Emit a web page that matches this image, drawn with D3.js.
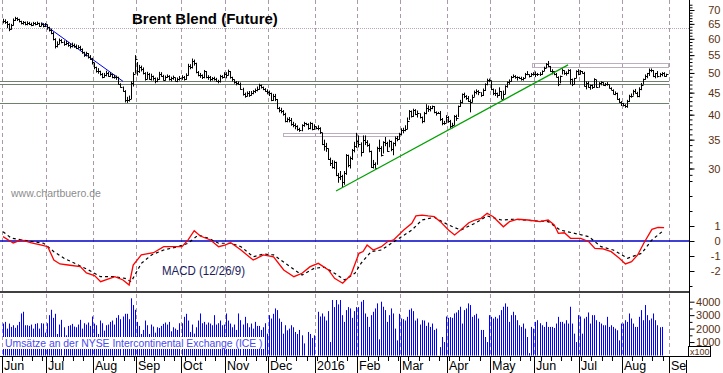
<!DOCTYPE html>
<html>
<head>
<meta charset="utf-8">
<script src="https://cdn.jsdelivr.net/npm/d3@7"></script>
<style>
  body { margin: 0; background: #fff; }
  svg { display: block; font-family: Arial, 'Liberation Sans', sans-serif; }
</style>
</head>
<body>
<div id="viz"></div>
<script>
const width = 723;
const height = 373;
const axisX = 689;
const labelColor = '#5a3010';

// month labels on the time axis (one per month start, Jun 2015 .. Sep 2016)
const monthLabels = ['Jun', 'Jul', 'Aug', 'Sep', 'Oct', 'Nov', 'Dec', '2016',
  'Feb', 'Mar', 'Apr', 'May', 'Jun', 'Jul', 'Aug', 'Sep'];

// daily bars, one value per trading day, month by month
const close = [
  66.0,65.8,65.0,63.2,64.5,66.5,67.0,66.6,66.0,65.2,65.5,64.8,65.3,65.0,64.6,65.2,64.8,65.3,64.2,65.0,64.3,64.8,
  63.8,63.0,62.0,60.0,57.8,58.5,59.5,59.0,58.3,58.8,58.0,57.6,58.2,57.8,57.2,57.5,56.8,55.8,55.0,55.5,54.5,54.0,53.0,
  51.5,50.6,50.5,49.8,49.0,49.4,50.0,49.2,49.7,49.0,49.0,48.8,47.2,46.5,45.5,43.3,43.2,43.5,47.5,49.8,53.8,
  50.5,51.5,51.2,50.0,48.5,49.8,48.5,49.3,48.6,47.8,48.4,49.8,49.3,48.2,49.0,49.2,48.3,48.6,48.9,48.0,48.5,48.6,
  48.8,48.3,49.5,52.0,51.5,53.3,52.8,50.2,49.5,49.4,49.0,50.5,48.9,49.0,48.3,48.6,48.4,48.0,47.8,49.3,49.0,49.7,
  49.5,50.5,48.8,48.3,47.6,47.3,47.2,46.0,44.6,44.2,45.0,44.5,44.9,45.3,45.6,46.0,46.8,46.3,46.0,45.5,45.2,
  44.8,43.3,44.2,43.5,41.5,41.0,40.8,40.2,38.6,39.0,38.9,38.0,37.8,37.6,37.0,36.8,37.8,38.2,38.0,37.2,38.2,37.0,37.7,
  37.3,37.2,36.4,34.2,33.8,33.5,31.6,30.9,30.3,31.0,29.0,28.6,28.8,27.9,29.3,32.2,30.5,31.8,33.1,33.9,34.7,
  34.2,32.7,35.0,34.5,34.1,32.9,30.3,30.8,30.1,33.4,33.4,32.2,34.5,34.3,33.0,34.7,33.3,34.4,35.3,35.1,36.0,
  36.8,36.9,37.1,38.7,40.8,39.7,41.1,40.1,40.4,39.5,38.7,40.3,41.5,41.2,41.5,41.8,40.5,40.4,40.4,39.1,38.3,38.3,39.6,
  38.7,37.7,37.9,39.8,39.4,41.9,42.8,44.7,44.2,43.8,43.1,42.9,44.0,45.1,45.3,45.1,44.5,45.7,47.2,48.1,48.1,
  45.8,45.0,45.0,44.4,45.4,43.6,44.7,46.6,47.6,47.8,49.0,49.3,48.9,48.8,48.7,48.4,48.6,49.7,49.6,49.3,49.8,49.7,
  49.7,49.7,49.6,50.6,51.4,52.5,52.0,50.5,50.4,49.8,49.0,47.2,49.2,50.7,50.0,49.9,50.9,48.4,47.2,48.6,50.6,49.7,
  50.4,50.1,46.6,47.4,46.4,46.8,46.3,48.5,46.3,47.4,47.6,47.0,47.1,47.2,46.2,45.7,44.7,44.9,43.5,42.7,42.5,
  42.1,41.8,43.1,44.3,44.3,45.4,45.0,44.1,46.0,47.0,48.4,49.2,49.9,50.9,50.9,49.2,50.0,49.1,49.7,49.9,49.3,49.6
];
const high = [
  66.8,66.6,66.0,65.2,65.0,66.9,67.5,67.3,66.8,66.1,66.0,65.8,65.9,65.7,65.4,65.7,65.6,65.8,65.4,65.5,65.2,65.3,
  64.8,64.0,63.4,62.2,60.2,59.2,60.1,59.9,59.5,59.4,59.0,58.5,58.8,58.5,58.2,58.0,57.8,57.0,56.0,56.0,55.6,55.0,54.2,
  52.8,51.7,51.3,50.6,50.0,50.0,50.6,50.3,50.2,49.8,49.5,49.3,49.0,47.3,46.5,45.6,44.0,44.3,47.8,50.2,55.0,
  53.0,52.2,52.0,51.5,50.2,50.3,50.0,49.8,49.3,48.8,48.8,50.3,50.2,49.5,49.3,49.6,49.4,49.0,49.3,48.8,48.8,49.2,
  49.4,49.2,49.9,52.5,52.4,54.0,53.7,52.8,50.5,50.0,49.6,50.8,50.5,49.4,49.2,48.9,49.0,48.7,48.2,49.5,49.4,50.2,
  50.2,50.9,50.5,49.0,48.3,47.9,47.8,47.5,46.2,45.0,45.3,45.4,45.4,45.6,46.0,46.5,47.2,47.0,46.5,46.1,45.8,
  45.5,45.0,44.7,44.7,43.5,41.7,41.5,41.0,40.4,39.4,39.5,39.3,38.5,38.2,37.8,37.3,38.0,38.5,38.3,38.2,38.5,38.3,38.0,
  37.5,37.8,37.4,36.3,35.0,34.4,33.4,31.8,31.4,31.3,31.1,29.3,29.6,29.0,29.6,32.4,32.3,32.0,33.3,34.6,36.3,
  35.8,34.5,35.8,35.8,34.9,34.3,33.0,31.4,31.0,33.7,35.0,33.8,34.7,35.5,34.6,35.0,34.8,34.5,35.6,35.7,36.3,
  37.2,37.3,37.8,39.4,41.0,40.9,41.3,41.2,40.9,40.3,39.6,40.6,42.3,42.0,41.9,42.0,41.9,40.7,40.6,40.8,39.3,38.7,39.9,
  39.7,38.9,38.3,39.9,40.0,42.0,43.3,44.8,45.0,44.4,44.2,43.4,44.5,45.5,45.8,45.6,45.1,46.0,47.3,48.5,48.5,
  48.0,46.0,45.8,45.0,46.3,45.4,45.5,46.8,47.8,48.3,49.2,49.6,49.4,49.1,49.0,49.0,48.9,50.0,50.5,49.6,50.0,50.2,
  50.4,50.0,50.2,50.7,51.7,52.7,53.3,51.9,51.0,50.5,50.0,49.1,49.3,51.2,50.7,50.4,51.0,51.0,48.5,48.7,50.7,51.0,
  50.8,50.5,50.3,47.8,47.8,47.0,47.0,48.6,48.2,47.6,47.8,47.6,47.4,47.6,47.0,46.3,45.8,45.3,45.0,43.7,43.0,
  42.6,42.3,43.3,44.5,44.8,45.7,45.9,45.2,46.3,47.4,48.5,49.6,50.0,51.2,51.2,50.8,50.0,50.5,50.0,50.2,50.2,49.8
];
const low = [
  65.2,65.0,63.5,62.5,63.0,64.4,66.0,66.0,65.5,64.8,64.7,64.5,64.5,64.6,64.2,64.4,64.5,64.6,64.0,64.2,63.8,63.9,
  63.0,62.4,61.5,59.5,57.0,57.3,58.3,58.6,57.8,58.0,57.5,57.0,57.3,57.2,56.8,56.9,56.3,55.4,54.5,54.6,54.0,53.6,52.3,
  51.0,50.1,49.8,49.3,48.6,48.8,49.1,49.0,49.0,48.6,48.5,48.2,47.0,46.2,45.2,42.7,42.6,42.9,43.5,46.5,49.8,
  49.3,50.0,50.4,49.6,48.0,48.3,48.2,48.0,48.0,47.3,47.6,48.2,49.0,48.0,48.0,48.7,48.0,47.8,48.2,47.8,47.6,48.0,
  48.2,48.0,48.2,49.3,51.0,51.2,52.0,49.9,49.1,48.7,48.4,48.6,48.6,48.2,47.8,48.0,48.0,47.7,47.3,47.5,48.5,48.7,
  48.6,49.3,48.5,47.8,47.2,46.8,46.9,45.7,44.3,43.8,44.1,44.0,44.3,44.6,44.9,45.3,45.7,46.0,45.6,45.2,44.6,
  44.2,43.0,43.1,43.0,41.2,40.5,40.3,39.8,38.4,38.4,38.4,37.7,37.4,37.0,36.7,36.5,36.6,37.5,37.8,36.9,37.0,36.8,36.9,
  37.0,36.8,36.1,34.0,33.0,32.8,31.4,30.4,30.0,29.9,28.8,27.8,28.2,27.1,27.5,29.0,30.2,30.0,31.4,32.7,33.5,
  33.6,32.0,32.6,34.0,33.7,32.7,30.1,30.0,30.0,30.6,32.8,32.0,32.5,33.8,32.8,33.6,32.9,32.2,33.8,34.7,35.0,
  35.8,36.2,36.6,37.0,38.9,39.4,39.5,39.9,39.4,39.2,38.2,38.4,40.1,40.6,40.7,41.2,40.3,39.8,40.2,38.7,37.8,37.9,38.3,
  38.3,37.2,37.2,37.8,38.7,39.5,41.7,42.5,43.7,43.3,42.8,40.5,42.7,44.0,44.6,44.4,44.0,44.2,45.4,46.8,47.6,
  45.6,44.4,44.2,43.8,44.2,43.5,43.5,44.6,46.2,47.0,47.7,48.7,48.5,48.0,48.4,48.0,48.0,48.6,49.4,48.8,49.0,49.3,
  48.9,49.2,49.2,49.5,50.5,51.3,51.6,50.3,49.6,49.4,48.8,46.6,47.3,49.6,49.5,49.3,49.7,47.0,46.6,47.0,48.6,49.4,
  49.6,49.8,46.5,45.8,46.2,45.7,45.9,46.2,46.2,46.2,46.8,46.7,46.6,46.7,46.0,45.6,44.6,44.4,43.3,42.6,41.9,
  41.8,41.5,41.5,42.8,43.8,44.3,44.8,43.9,43.9,45.6,47.0,48.2,48.6,49.2,50.2,48.9,48.6,48.8,48.9,49.1,49.0,49.0
];

// daily turnover (axis units, x100)
const volume = [
  2375,2500,2000,2375,2125,2250,2060,2250,2500,3125,3250,2250,2250,2200,2300,2000,2350,2400,2000,2400,2375,1700,
  2400,3000,3400,2800,3100,1600,2300,2650,2100,1500,2200,2250,2350,2150,2100,2300,2650,2000,2400,2300,2450,2200,2900,
  2375,2250,1600,2600,2400,1850,2250,2300,2500,2600,2300,2800,3000,2700,2900,3100,3100,2700,4250,3750,3400,
  2500,2200,1600,1900,2600,2250,1600,2300,2150,1700,2100,2050,2200,2350,2450,2300,2500,1800,2100,2000,1900,2400,
  2400,2875,3100,2600,1750,2300,1625,2100,2600,3125,2400,2500,2300,2450,2375,2250,3000,2300,2400,2600,2250,2300,
  3125,2600,2375,2100,2300,1900,3125,2625,2300,2875,2400,2100,2375,2000,2500,2200,2200,1900,2100,2400,1625,
  3000,2750,3100,3500,3375,2750,2500,1625,2250,1875,2000,2250,2100,1750,1600,1900,1500,900,0,1750,1600,1300,1500,
  0,3250,2900,3125,2900,2600,3300,1000,4125,3600,4125,3800,4125,3000,2500,3375,3600,3500,2800,3300,3600,
  3600,4000,4125,3125,2875,2125,3000,3250,3500,3875,1200,4000,3625,3375,2500,3000,3500,3125,2000,1125,3100,
  2750,2700,2600,2875,3400,3500,3300,2600,2750,2300,2625,2600,2200,2450,2125,2375,1900,2000,0,625,1375,1000,2900,
  2800,2850,2800,3125,3200,3375,3625,2375,3375,3500,3875,3750,2875,3000,3100,2750,1900,1900,1375,1000,3000,
  2875,2750,2875,2750,3000,3375,3625,3875,3625,2500,3000,3250,3000,2625,2250,2125,2375,2000,1375,175,2125,2000,
  2500,2625,2400,2250,2125,2500,2125,2125,2125,2050,2375,2875,2500,2500,2375,2625,2375,3625,2375,1625,1000,3000,
  2900,1625,2750,2875,3200,2375,3000,3000,2625,2500,2375,2250,2250,2875,2125,2250,2125,2000,1875,1125,2375,
  2375,2625,2500,3125,2750,2375,2125,2125,2875,3375,2625,3750,3000,2625,2750,3125,2625,2250,2100,2125,null,null
];

// MACD (12/26/9): [trading day, value]
const macdLine = [[0,0.29],[4,-0.05],[5,-0.13],[9,0.07],[14,-0.13],[19,-0.27],[22,-0.38],[25,-1.27],[28,-1.53],
  [32,-1.6],[38,-1.71],[41,-2.13],[45,-2.31],[48,-2.71],[55,-2.38],[59,-2.6],[62,-2.93],[64,-1.6],[68,-0.93],
  [74,-0.78],[79,-0.38],[88,-0.38],[91,0.07],[94,0.69],[97,0.33],[102,0.07],[106,-0.38],[109,-0.27],[112,-0.11],
  [117,-0.6],[121,-1.05],[123,-1.27],[128,-0.93],[133,-1.05],[138,-1.93],[143,-2.38],[147,-2.15],[151,-1.71],
  [155,-1.49],[160,-1.93],[163,-2.49],[167,-2.82],[171,-2.27],[175,-0.82],[177,-0.7],[179,-0.27],[182,-0.6],
  [186,-0.38],[189,-0.05],[192,0.07],[197,0.73],[201,1.18],[203,1.67],[206,1.73],[209,1.67],[212,1.62],[215,1.29],
  [219,0.73],[222,0.4],[225,0.73],[229,1.22],[232,1.4],[235,1.51],[238,1.85],[241,1.62],[246,0.95],[249,1.29],
  [253,1.45],[258,1.4],[264,1.29],[268,1.4],[271,1.07],[273,0.51],[276,0.55],[279,0.18],[284,0.18],[288,-0.05],
  [291,-0.49],[295,-0.53],[299,-0.71],[303,-1.15],[306,-1.53],[309,-1.38],[312,-0.93],[315,-0.15],[319,0.78],
  [322,0.91],[325,0.89]];
const signalLine = [[0,0.62],[4,0.2],[9,0.07],[15,-0.05],[20,-0.15],[25,-0.71],[30,-1.15],[37,-1.6],[42,-1.93],
  [48,-2.38],[55,-2.38],[60,-2.49],[63,-2.71],[68,-1.49],[73,-0.93],[79,-0.6],[86,-0.38],[91,-0.15],[96,0.4],
  [101,0.18],[106,-0.15],[112,-0.15],[117,-0.38],[123,-1.05],[128,-0.87],[133,-0.93],[140,-1.6],[147,-2.27],
  [153,-1.82],[158,-1.75],[163,-2.15],[168,-2.6],[173,-2.15],[175,-1.71],[176,-1.49],[181,-0.71],[186,-0.6],
  [191,-0.15],[196,0.29],[201,0.73],[206,1.4],[212,1.58],[219,1.07],[225,0.73],[232,1.18],[238,1.67],[245,1.4],
  [251,1.45],[261,1.35],[268,1.29],[274,0.73],[281,0.51],[288,0.29],[294,-0.38],[300,-0.6],[307,-1.15],
  [314,-0.82],[319,0.07],[322,0.4],[325,0.73]];

// drawn-in analysis: levels, boxes and trend lines (day index / price)
const supportLevels = [47.8, 47.05, 42.5];
const dottedLevel = 63.5;
const boxes = [{from: 138.6, to: 195.7, lo: 35.7, hi: 36.3}, {from: 261, to: 328, lo: 51.4, hi: 52.6}];
const blueTrend = [[19.7, 65.3], [59.5, 47.8]];
const greenTrend = [[164.2, 26.6], [278.3, 52.2]];

const priceTicks = [30, 35, 40, 45, 50, 55, 60, 65, 70];
const macdTicks = [1, 0, -1, -2];
const volumeTicks = [1000, 2000, 3000, 4000];

// trading days (weekdays) Jun 1 2015 .. Sep 1 2016
const days = d3.timeDay.range(new Date(2015, 5, 1), new Date(2016, 8, 2))
  .filter(d => d.getDay() > 0 && d.getDay() < 6);
const monthStarts = days.map((d, i) => i).filter(i => i === 0 || days[i].getMonth() !== days[i - 1].getMonth());
const mondays = days.map((d, i) => i).filter(i => days[i].getDay() === 1);

const x = d3.scaleLinear().domain([0, 328]).range([2, 669.2]);
const yPrice = d3.scaleLog().domain([30, 70]).range([168.5, 10]);
const yMacd = d3.scaleLinear().domain([-2, 1]).range([271, 226]);
const yVol = d3.scaleLinear().domain([0, 4000]).range([355.5, 301.7]);
const bx = i => Math.floor(x(i)) + 1.5;

const svg = d3.select('#viz')
  .append('svg')
  .attr('width', width)
  .attr('height', height);

// month grid
svg.append('g')
  .selectAll('line')
  .data(monthStarts)
  .join('line')
    .attr('x1', i => Math.floor(x(i)) + 0.5)
    .attr('x2', i => Math.floor(x(i)) + 0.5)
    .attr('y1', 0)
    .attr('y2', 356)
    .attr('stroke', '#a99aa9')
    .attr('stroke-dasharray', '4,3');

// horizontal levels
svg.append('line')
  .attr('x1', 0).attr('x2', axisX)
  .attr('y1', Math.round(yPrice(dottedLevel)) + 0.5)
  .attr('y2', Math.round(yPrice(dottedLevel)) + 0.5)
  .attr('stroke', '#b9a6b9')
  .attr('stroke-dasharray', '1,1');

svg.append('g')
  .selectAll('line')
  .data(supportLevels)
  .join('line')
    .attr('x1', 0).attr('x2', x(328))
    .attr('y1', d => Math.round(yPrice(d)) + 0.5)
    .attr('y2', d => Math.round(yPrice(d)) + 0.5)
    .attr('stroke', '#6f806f');

svg.append('g')
  .selectAll('rect')
  .data(boxes)
  .join('rect')
    .attr('x', d => Math.floor(x(d.from)) + 0.5)
    .attr('y', d => Math.round(yPrice(d.hi)) + 0.5)
    .attr('width', d => Math.round(x(d.to) - x(d.from)))
    .attr('height', d => Math.round(yPrice(d.lo) - yPrice(d.hi)))
    .attr('fill', 'none')
    .attr('stroke', '#bcaebc');

// blue down trend, behind the bars
svg.append('line')
  .attr('x1', x(blueTrend[0][0])).attr('y1', yPrice(blueTrend[0][1]))
  .attr('x2', x(blueTrend[1][0])).attr('y2', yPrice(blueTrend[1][1]))
  .attr('stroke', '#0000e0')
  .attr('stroke-width', 1);

// price bars (high-low with close tick)
svg.append('g')
  .selectAll('path')
  .data(close.map((c, i) => i))
  .join('path')
    .attr('d', i => `M${bx(i)},${yPrice(high[i])}V${yPrice(low[i])}M${bx(i)},${Math.round(yPrice(close[i])) + 0.5}h2`)
    .attr('stroke', '#000')
    .attr('stroke-width', 1)
    .attr('fill', 'none');

// green up trend
svg.append('line')
  .attr('x1', x(greenTrend[0][0])).attr('y1', yPrice(greenTrend[0][1]))
  .attr('x2', x(greenTrend[1][0])).attr('y2', yPrice(greenTrend[1][1]))
  .attr('stroke', '#00a000')
  .attr('stroke-width', 1.2);

svg.append('text')
  .attr('x', 132)
  .attr('y', 24)
  .attr('font-size', 15)
  .attr('font-weight', 'bold')
  .text('Brent Blend (Future)');

svg.append('text')
  .attr('x', 11)
  .attr('y', 197)
  .attr('font-size', 10.5)
  .attr('fill', '#8c8c8c')
  .text('www.chartbuero.de');

// MACD panel
svg.append('line')
  .attr('x1', 0).attr('x2', axisX)
  .attr('y1', yMacd(0)).attr('y2', yMacd(0))
  .attr('stroke', '#0000c8')
  .attr('stroke-width', 1.3);

const macdGen = d3.line()
  .x(d => x(d[0]) + 1)
  .y(d => yMacd(d[1]));

svg.append('path')
  .attr('d', macdGen(signalLine))
  .attr('fill', 'none')
  .attr('stroke', '#000')
  .attr('stroke-width', 1.2)
  .attr('stroke-dasharray', '3,3');

svg.append('path')
  .attr('d', macdGen(macdLine))
  .attr('fill', 'none')
  .attr('stroke', '#ff0000')
  .attr('stroke-width', 1.3);

svg.append('text')
  .attr('x', 162)
  .attr('y', 275)
  .attr('font-size', 13)
  .attr('fill', '#1c1c5c')
  .attr('textLength', 83)
  .attr('lengthAdjust', 'spacingAndGlyphs')
  .text('MACD (12/26/9)');

// volume panel
svg.append('line')
  .attr('x1', 0).attr('x2', axisX)
  .attr('y1', 292).attr('y2', 292)
  .attr('stroke', '#000')
  .attr('stroke-width', 1.5);

svg.append('g')
  .selectAll('rect')
  .data(volume.map((v, i) => i).filter(i => volume[i]))
  .join('rect')
    .attr('x', i => Math.floor(x(i)) + 1)
    .attr('y', i => yVol(volume[i]))
    .attr('width', 1)
    .attr('height', i => yVol(0) - yVol(volume[i]))
    .attr('fill', '#0000ff');

svg.append('rect')
  .attr('x', 3).attr('y', 337)
  .attr('width', 262).attr('height', 12)
  .attr('fill', '#fff');

svg.append('text')
  .attr('x', 5)
  .attr('y', 347)
  .attr('font-size', 10.4)
  .attr('fill', '#4b4bf0')
  .text('Umsätze an der NYSE Intercontinental Exchange (ICE )');

// time axis
svg.append('line')
  .attr('x1', 0).attr('x2', axisX)
  .attr('y1', 356.5).attr('y2', 356.5)
  .attr('stroke', '#000');

svg.append('g')
  .selectAll('line')
  .data(mondays)
  .join('line')
    .attr('x1', i => Math.floor(x(i)) + 0.5)
    .attr('x2', i => Math.floor(x(i)) + 0.5)
    .attr('y1', 356).attr('y2', 361)
    .attr('stroke', '#000');

svg.append('g')
  .selectAll('line')
  .data(monthStarts)
  .join('line')
    .attr('x1', i => Math.floor(x(i)) + 0.5)
    .attr('x2', i => Math.floor(x(i)) + 0.5)
    .attr('y1', 356).attr('y2', height)
    .attr('stroke', '#000');

svg.append('line')
  .attr('x1', 686.5).attr('x2', 686.5)
  .attr('y1', 360).attr('y2', height)
  .attr('stroke', '#000');

svg.append('clipPath')
  .attr('id', 'xclip')
  .append('rect')
    .attr('x', 0).attr('y', 356)
    .attr('width', 686).attr('height', 20);

svg.append('g')
  .attr('clip-path', 'url(#xclip)')
  .selectAll('text')
  .data(monthStarts)
  .join('text')
    .attr('x', i => Math.floor(x(i)) + 2)
    .attr('y', 370)
    .attr('font-size', 12.5)
    .text((i, k) => monthLabels[k]);

// right-hand value axes
svg.append('line')
  .attr('x1', axisX + 0.5).attr('x2', axisX + 0.5)
  .attr('y1', 0).attr('y2', 357)
  .attr('stroke', '#000');

function rightAxis(scale, major, minor) {
  const g = svg.append('g').attr('transform', `translate(${axisX + 0.5},0)`);
  g.append('g')
    .call(d3.axisRight(scale).tickValues(minor).tickSize(3).tickFormat(''))
    .call(a => a.select('.domain').remove());
  g.append('g')
    .call(d3.axisRight(scale).tickValues(major).tickSize(5).tickFormat(d => String(d)))
    .call(a => a.select('.domain').remove())
    .call(a => a.selectAll('text')
      .attr('x', 31)
      .attr('text-anchor', 'end')
      .attr('fill', labelColor)
      .attr('font-size', 11)
      .attr('font-family', 'Arial, Liberation Sans, sans-serif'));
}

rightAxis(yPrice, priceTicks, d3.range(29, 73));
rightAxis(yMacd, macdTicks, d3.range(-3, 5));
rightAxis(yVol, volumeTicks, [500, 1500, 2500, 3500]);

svg.append('rect')
  .attr('x', 688.5).attr('y', 346.5)
  .attr('width', 22).attr('height', 10)
  .attr('fill', '#fff')
  .attr('stroke', '#000');

svg.append('text')
  .attr('x', 690)
  .attr('y', 355)
  .attr('font-size', 9)
  .attr('fill', labelColor)
  .text('x100');
</script>
</body>
</html>
